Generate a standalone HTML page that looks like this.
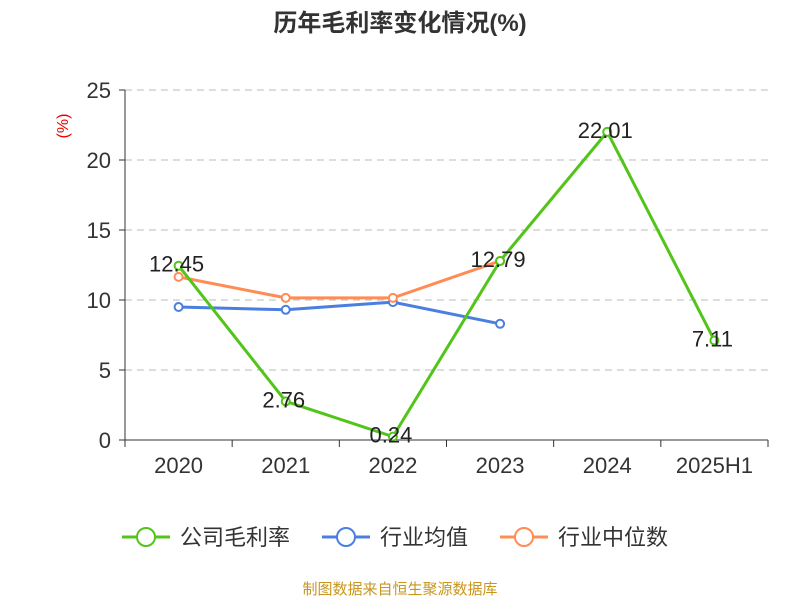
<!DOCTYPE html>
<html><head><meta charset="utf-8"><style>
body{margin:0;background:#fff;font-family:"Liberation Sans","Noto Sans CJK SC",sans-serif;}
svg text{font-family:"Liberation Sans","Noto Sans CJK SC",sans-serif;}
</style></head><body>
<svg id="c" width="800" height="600" xmlns="http://www.w3.org/2000/svg">
<text x="400" y="31" text-anchor="middle" font-size="24" font-weight="bold" fill="#333">历年毛利率变化情况(%)</text>
<text x="68" y="126" text-anchor="middle" font-size="16" fill="#e00" transform="rotate(-90 68 126)">(%)</text>
<g id="grid"></g><g id="axes"></g><g id="series"></g>
<g>
<g><line x1="122" y1="537" x2="170" y2="537" stroke="#52c41a" stroke-width="3"/><circle cx="146" cy="537" r="9" fill="#fff" stroke="#52c41a" stroke-width="2"/><text x="180" y="545" font-size="22" fill="#333">公司毛利率</text></g>
<g><line x1="322" y1="537" x2="370" y2="537" stroke="#4a7fe0" stroke-width="3"/><circle cx="346" cy="537" r="9" fill="#fff" stroke="#4a7fe0" stroke-width="2"/><text x="380" y="545" font-size="22" fill="#333">行业均值</text></g>
<g><line x1="500" y1="537" x2="548" y2="537" stroke="#ff8c55" stroke-width="3"/><circle cx="524" cy="537" r="9" fill="#fff" stroke="#ff8c55" stroke-width="2"/><text x="558" y="545" font-size="22" fill="#333">行业中位数</text></g>
</g>
<text x="400" y="594" text-anchor="middle" font-size="15" fill="#c8961e">制图数据来自恒生聚源数据库</text>
</svg>
<script>
const categories=["2020","2021","2022","2023","2024","2025H1"];
const companyValues=[12.45,2.76,0.24,12.79,22.01,7.11];
const industryAvg=[9.5,9.3,9.85,8.3,null,null];
const industryMedian=[11.65,10.15,10.15,12.79,null,null];
const yTicks=[0,5,10,15,20,25];
const NS="http://www.w3.org/2000/svg";
const x0=125,x1=768,y0=440,y1=90,yMax=25;
const step=(x1-x0)/categories.length;
const X=i=>x0+step*(i+0.5);
const Y=v=>y0-(v/yMax)*(y0-y1);
function mk(t,a,p){const e=document.createElementNS(NS,t);for(const k in a)e.setAttribute(k,a[k]);p.appendChild(e);return e;}
const grid=document.getElementById('grid'),axes=document.getElementById('axes'),ser=document.getElementById('series');
yTicks.forEach(v=>{
 if(v>0){const g=mk('line',{x1:x0,x2:x1,y1:Y(v),y2:Y(v),stroke:'#bbb','stroke-dasharray':'7,5'},grid);
 
 }
 const tk=mk('line',{x1:x0-6,x2:x0,y1:Y(v),y2:Y(v),stroke:'#333'},axes);
 
 
 const t=mk('text',{x:x0-14,y:Y(v)+8,'text-anchor':'end','font-size':22,fill:'#333'},axes);t.textContent=v;
 
 
});
const ya=mk('line',{x1:x0,x2:x0,y1:y1,y2:y0,stroke:'#333'},axes);


const xa=mk('line',{x1:x0,x2:x1,y1:y0,y2:y0,stroke:'#333'},axes);


for(let i=0;i<=categories.length;i++){const l=mk('line',{x1:x0+step*i,x2:x0+step*i,y1:y0,y2:y0+7,stroke:'#333'},axes);
 
 }
categories.forEach((c,i)=>{const t=mk('text',{x:X(i),y:y0+33,'text-anchor':'middle','font-size':22,fill:'#333'},axes);t.textContent=c;
 
 });
function line(vals,color,name,labels){
 const pts=vals.map((v,i)=>v==null?null:[X(i),Y(v)]).filter(p=>p);
 const pl=mk('polyline',{points:pts.map(p=>p.join(',')).join(' '),fill:'none',stroke:color,'stroke-width':3},ser);
 
 
 vals.forEach((v,i)=>{if(v==null)return;
  const c=mk('circle',{cx:X(i),cy:Y(v),r:4,fill:'#fff',stroke:color,'stroke-width':2},ser);
  
  
  if(labels){const t=mk('text',{x:X(i)-2,y:Y(v)+6,'text-anchor':'middle','font-size':22,fill:'#222'},ser);t.textContent=v.toFixed(2);
  
  }
 });
}
line(industryAvg,'#4a7fe0','industry-avg',false);
line(industryMedian,'#ff8c55','industry-median',false);
line(companyValues,'#52c41a','company',true);
</script>
</body></html>
